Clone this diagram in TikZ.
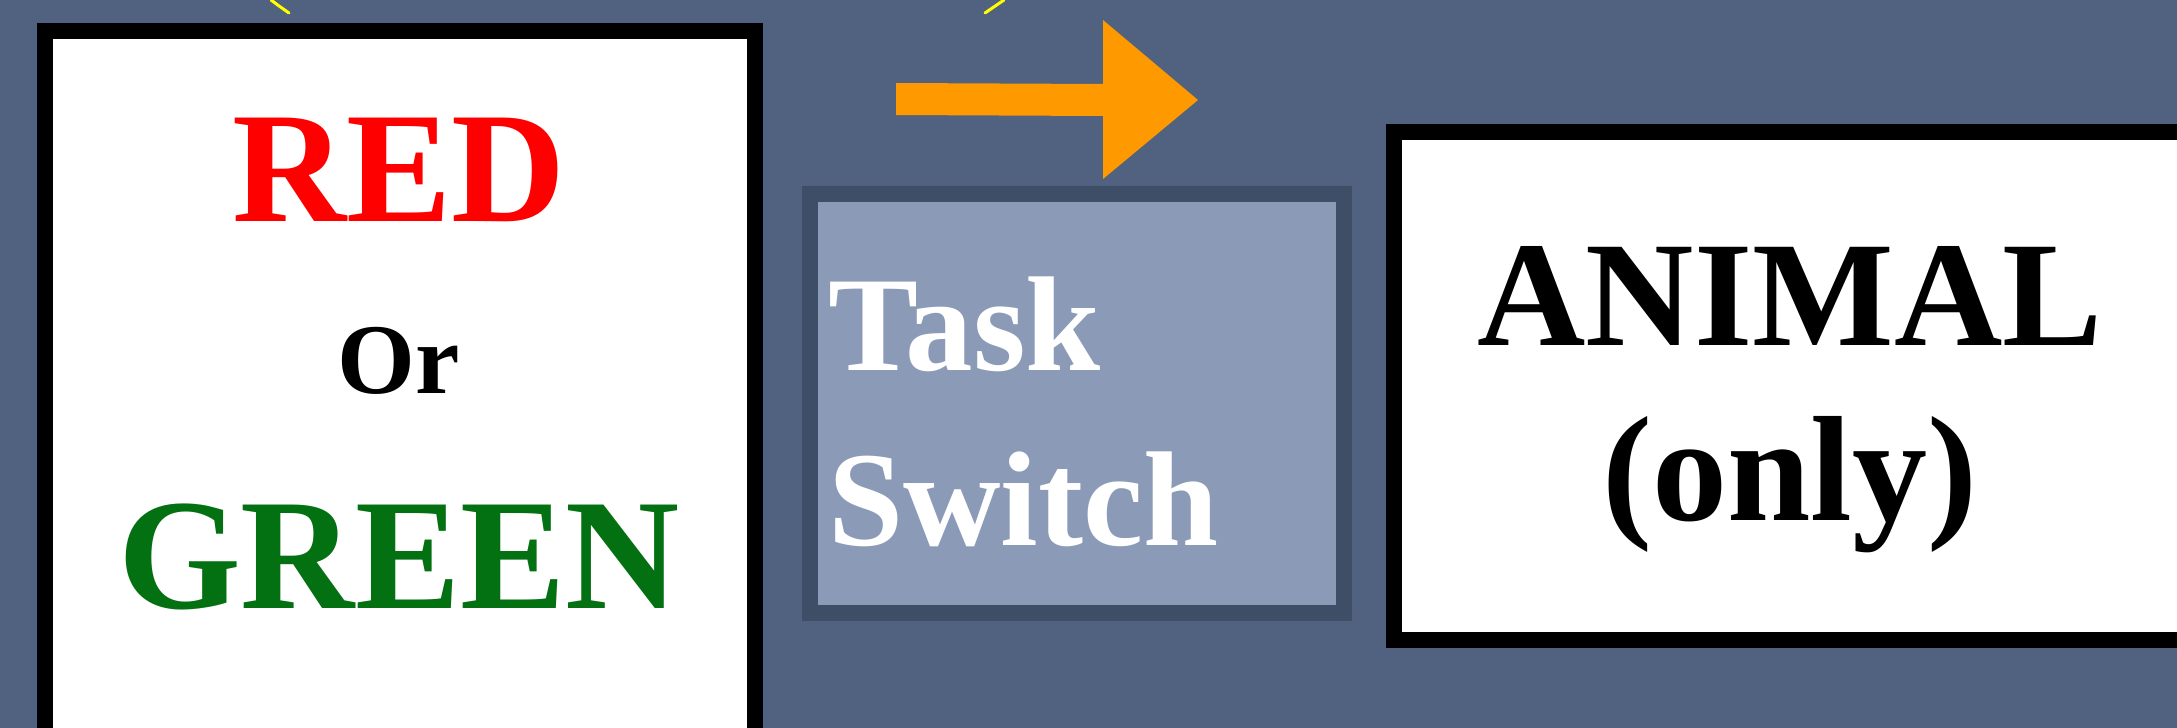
\documentclass[tikz,border=0pt]{standalone}
\usepackage{fontspec}
\setmainfont{Liberation Serif}
\definecolor{bgc}{RGB}{80,98,128}
\definecolor{midout}{RGB}{62,78,103}
\definecolor{midin}{RGB}{139,155,183}
\definecolor{arrowc}{RGB}{255,153,0}
\definecolor{redc}{RGB}{255,0,0}
\definecolor{greenc}{RGB}{3,112,18}
\definecolor{yelc}{RGB}{255,255,0}
\tikzset{
  whitebox/.style={draw=black, fill=white, line width=16pt},
  midbox/.style={draw=midout, fill=midin, line width=16pt},
  bigtxt/.style={anchor=base, inner sep=0pt, font=\bfseries\fontsize{158}{158}\selectfont},
  midtxt/.style={anchor=base west, inner sep=0pt, text=white, font=\bfseries\fontsize{135}{135}\selectfont},
  ortxt/.style={anchor=base, inner sep=0pt, font=\bfseries\fontsize{100}{100}\selectfont},
  yelmark/.style={draw=yelc, line width=3pt, line cap=round}
}
\begin{document}
\begin{tikzpicture}[x=1pt,y=-1pt]
\useasboundingbox (0,0) rectangle (2177,728);
\fill[bgc] (0,0) rectangle (2177,728);
% left box
\draw[whitebox] (45,31) rectangle (755,800);
\coordinate (lbc) at (399,400);
% middle box
\draw[midbox] (810,194) rectangle (1344,613);
% right box
\draw[whitebox] (1394,132) rectangle (2220,640);
% orange arrow
\fill[arrowc] (896,83) -- (1103,84) -- (1103,20) -- (1198,100) -- (1103,179) -- (1103,116) -- (896,115) -- cycle;
% yellow marks
\draw[yelmark] (271,0) .. controls (279,6) .. (289,13);
\draw[yelmark] (1004,0) .. controls (995,6) .. (985,13);
% texts
\node[bigtxt, text=redc] (red) at (399,221) {RED};
\node[ortxt, text=black] (or) at (399,393) {Or};
\node[bigtxt, text=greenc] (green) at (399,608) {GREEN};
\node[midtxt] (task) at (828,370) {Task};
\node[midtxt] (switch) at (828,545) {Switch};
\node[bigtxt, font=\bfseries\fontsize{150}{150}\selectfont] (animal) at (1790,345) {ANIMAL};
\node[bigtxt, font=\bfseries\fontsize{150}{150}\selectfont] (only) at (1790,520) {(only)};
\end{tikzpicture}
\end{document}
